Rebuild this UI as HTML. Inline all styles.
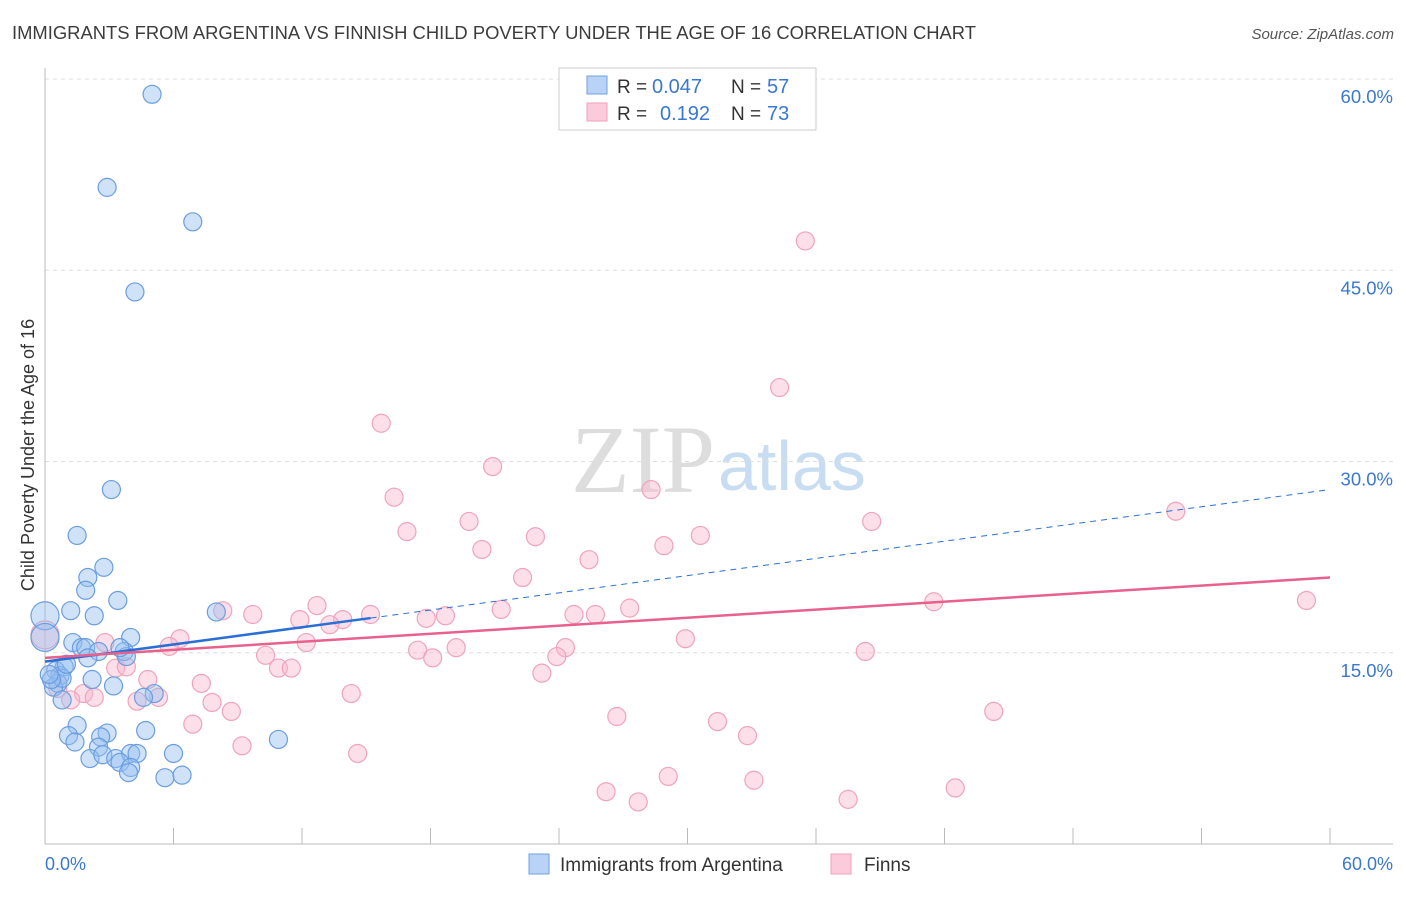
<!DOCTYPE html>
<html><head><meta charset="utf-8"><style>
body{margin:0;background:#fff;font-family:"Liberation Sans",sans-serif}
</style></head><body>
<svg width="1406" height="892" xmlns="http://www.w3.org/2000/svg" id="chart" font-family="Liberation Sans, sans-serif">
<text x="12" y="39" font-size="18.4" fill="#3c3c3c">IMMIGRANTS FROM ARGENTINA VS FINNISH CHILD POVERTY UNDER THE AGE OF 16 CORRELATION CHART</text>
<text x="1394" y="39" font-size="15" fill="#555" text-anchor="end" font-style="italic">Source: ZipAtlas.com</text>
<text x="715" y="492" font-size="96" fill="#ddd" text-anchor="end" font-family="Liberation Serif, serif">ZIP</text>
<text x="718" y="490" font-size="70" fill="#c8dcf2">atlas</text>
<text transform="translate(34,455) rotate(-90)" font-size="18" fill="#333" text-anchor="middle">Child Poverty Under the Age of 16</text>
<g id="grid"></g><g id="marks"></g>
<g>
<rect x="559" y="68" width="257" height="62" fill="#fff" stroke="#ccc"/>
<rect x="587" y="76" width="20" height="18" fill="#b8d3f5" stroke="#6f9fe0"/>
<rect x="587" y="103" width="20" height="18" fill="#fbcbdb" stroke="#f0a0b8"/>
<text x="617" y="93" font-size="19" fill="#333">R =</text>
<text x="652" y="93" font-size="20" fill="#3a78d0">0.047</text>
<text x="731" y="93" font-size="19" fill="#333">N =</text>
<text x="767" y="93" font-size="20" fill="#3a78d0">57</text>
<text x="617" y="120" font-size="19" fill="#333">R =</text>
<text x="660" y="120" font-size="20" fill="#3a78d0">0.192</text>
<text x="731" y="120" font-size="19" fill="#333">N =</text>
<text x="767" y="120" font-size="20" fill="#3a78d0">73</text>
</g>
<g>
<rect x="529" y="854" width="20" height="20" fill="#b8d3f5" stroke="#6f9fe0"/>
<text x="560" y="871" font-size="19" fill="#333">Immigrants from Argentina</text>
<rect x="831" y="854" width="20" height="20" fill="#fbcbdb" stroke="#f0a0b8"/>
<text x="864" y="871" font-size="19" fill="#333">Finns</text>
</g>
<text x="45" y="870" font-size="18" fill="#3a78d0">0.0%</text>
<text x="1393" y="870" font-size="18" fill="#3a78d0" text-anchor="end">60.0%</text>
</svg>
<script>
const yTicks=[15,30,45,60];
const blueX=[5.0,2.9,6.9,4.2,3.1,1.5,2.75,2.0,1.9,3.4,1.2,2.3,8.0,0,0,4.0,1.3,1.7,1.9,2.5,3.7,3.8,2.0,0.9,0.5,0.7,0.6,2.2,0.4,3.2,5.1,4.6,0.8,1.5,2.9,1.1,4.7,2.6,1.4,10.9,2.5,2.1,2.7,3.3,4.0,4.3,6.0,3.5,4.0,3.9,5.6,6.4,0.8,0.3,1.0,3.5,0.2];
const blueY=[58.8,51.5,48.8,43.3,27.8,24.2,21.7,20.9,19.9,19.1,18.3,17.9,18.2,17.9,16.2,16.2,15.8,15.4,15.4,15.1,15.1,14.7,14.6,13.9,13.6,13.2,12.6,12.9,12.3,12.4,11.8,11.5,11.3,9.3,8.7,8.5,8.9,8.4,8.0,8.2,7.6,6.7,7.0,6.7,7.1,7.1,7.1,6.4,6.0,5.6,5.2,5.4,13.0,12.9,14.1,15.4,13.3];
const pinkX=[35.5,34.3,15.7,20.9,28.3,16.3,52.8,19.8,38.6,16.9,22.9,30.6,20.4,28.9,25.4,22.3,41.5,58.9,12.7,21.3,27.3,8.3,9.7,24.7,25.7,11.9,13.9,15.2,17.8,18.7,13.3,29.9,6.3,2.8,12.2,0,19.2,24.3,5.8,17.4,38.3,10.3,23.9,18.1,10.9,11.5,3.3,3.8,23.2,4.8,7.3,14.3,1.8,5.3,2.3,4.3,1.2,7.8,8.7,44.3,26.7,31.4,6.9,32.8,9.2,14.6,29.1,33.1,26.2,27.7,37.5,42.5,0.6];
const pinkY=[47.3,35.8,33.0,29.6,27.8,27.2,26.1,25.3,25.3,24.5,24.1,24.2,23.1,23.4,22.3,20.9,19.0,19.1,18.7,18.4,18.5,18.3,18.0,18.0,18.0,17.6,17.6,18.0,17.7,17.9,17.2,16.1,16.1,15.8,15.8,16.4,15.4,15.4,15.5,15.2,15.1,14.8,14.7,14.6,13.8,13.8,13.8,13.9,13.4,12.9,12.6,11.8,11.8,11.5,11.5,11.2,11.3,11.1,10.4,10.4,10.0,9.6,9.4,8.5,7.7,7.1,5.3,5.0,4.1,3.3,3.5,4.4,12.2];
const blueTrend=[14.3,27.8]; const blueSolidEnd=15.2;
const pinkTrend=[14.6,20.9];
const X=v=>45+v*(1285/60), Y=v=>844-v*(765/60);
const NS='http://www.w3.org/2000/svg';
const grid=document.getElementById('grid'), marks=document.getElementById('marks');
function mk(tag,attrs,parent){const e=document.createElementNS(NS,tag);for(const k in attrs)e.setAttribute(k,attrs[k]);parent.appendChild(e);return e;}
yTicks.forEach(t=>{
 const l=mk('line',{x1:45,x2:1393,y1:Y(t),y2:Y(t),stroke:'#ddd','stroke-dasharray':'4,4'},grid);
 
 
 const tx=mk('text',{x:1393,y:Y(t)+24,'font-size':18.5,fill:'#3a78d0','text-anchor':'end'},grid);
 tx.textContent=t.toFixed(1)+'%';
 
 
});
const ax=mk('line',{x1:45,x2:1393,y1:844,y2:844,stroke:'#bbb'},grid);


const ay=mk('line',{x1:45,x2:45,y1:68,y2:844,stroke:'#bbb'},grid);


for(let i=0;i<=10;i++){const t=mk('line',{x1:X(i*6),x2:X(i*6),y1:828,y2:844,stroke:'#bbb'},grid);
 
 }
function pts(xs,ys,fill,stroke,name){xs.forEach((x,i)=>{
 const big=(x===0);
 const c=mk('circle',{cx:X(x),cy:Y(ys[i]),r:big?14:9,fill:fill,stroke:stroke,'stroke-width':1.2},marks);
 
 
});}
pts(pinkX,pinkY,'rgba(248,185,206,0.45)','#f0a3bb','point-finns');
pts(blueX,blueY,'rgba(150,190,240,0.45)','#6a9ee0','point-argentina');
const by=x=>blueTrend[0]+(blueTrend[1]-blueTrend[0])*x/60;
const l1=mk('line',{x1:X(0),y1:Y(by(0)),x2:X(blueSolidEnd),y2:Y(by(blueSolidEnd)),stroke:'#2a6fd6','stroke-width':2.5},marks);


const l2=mk('line',{x1:X(blueSolidEnd),y1:Y(by(blueSolidEnd)),x2:X(60),y2:Y(by(60)),stroke:'#2a6fd6','stroke-width':1,'stroke-dasharray':'6,5'},marks);


const l3=mk('line',{x1:X(0),y1:Y(pinkTrend[0]),x2:X(60),y2:Y(pinkTrend[1]),stroke:'#e8608c','stroke-width':2.5},marks);


</script>
</body></html>
